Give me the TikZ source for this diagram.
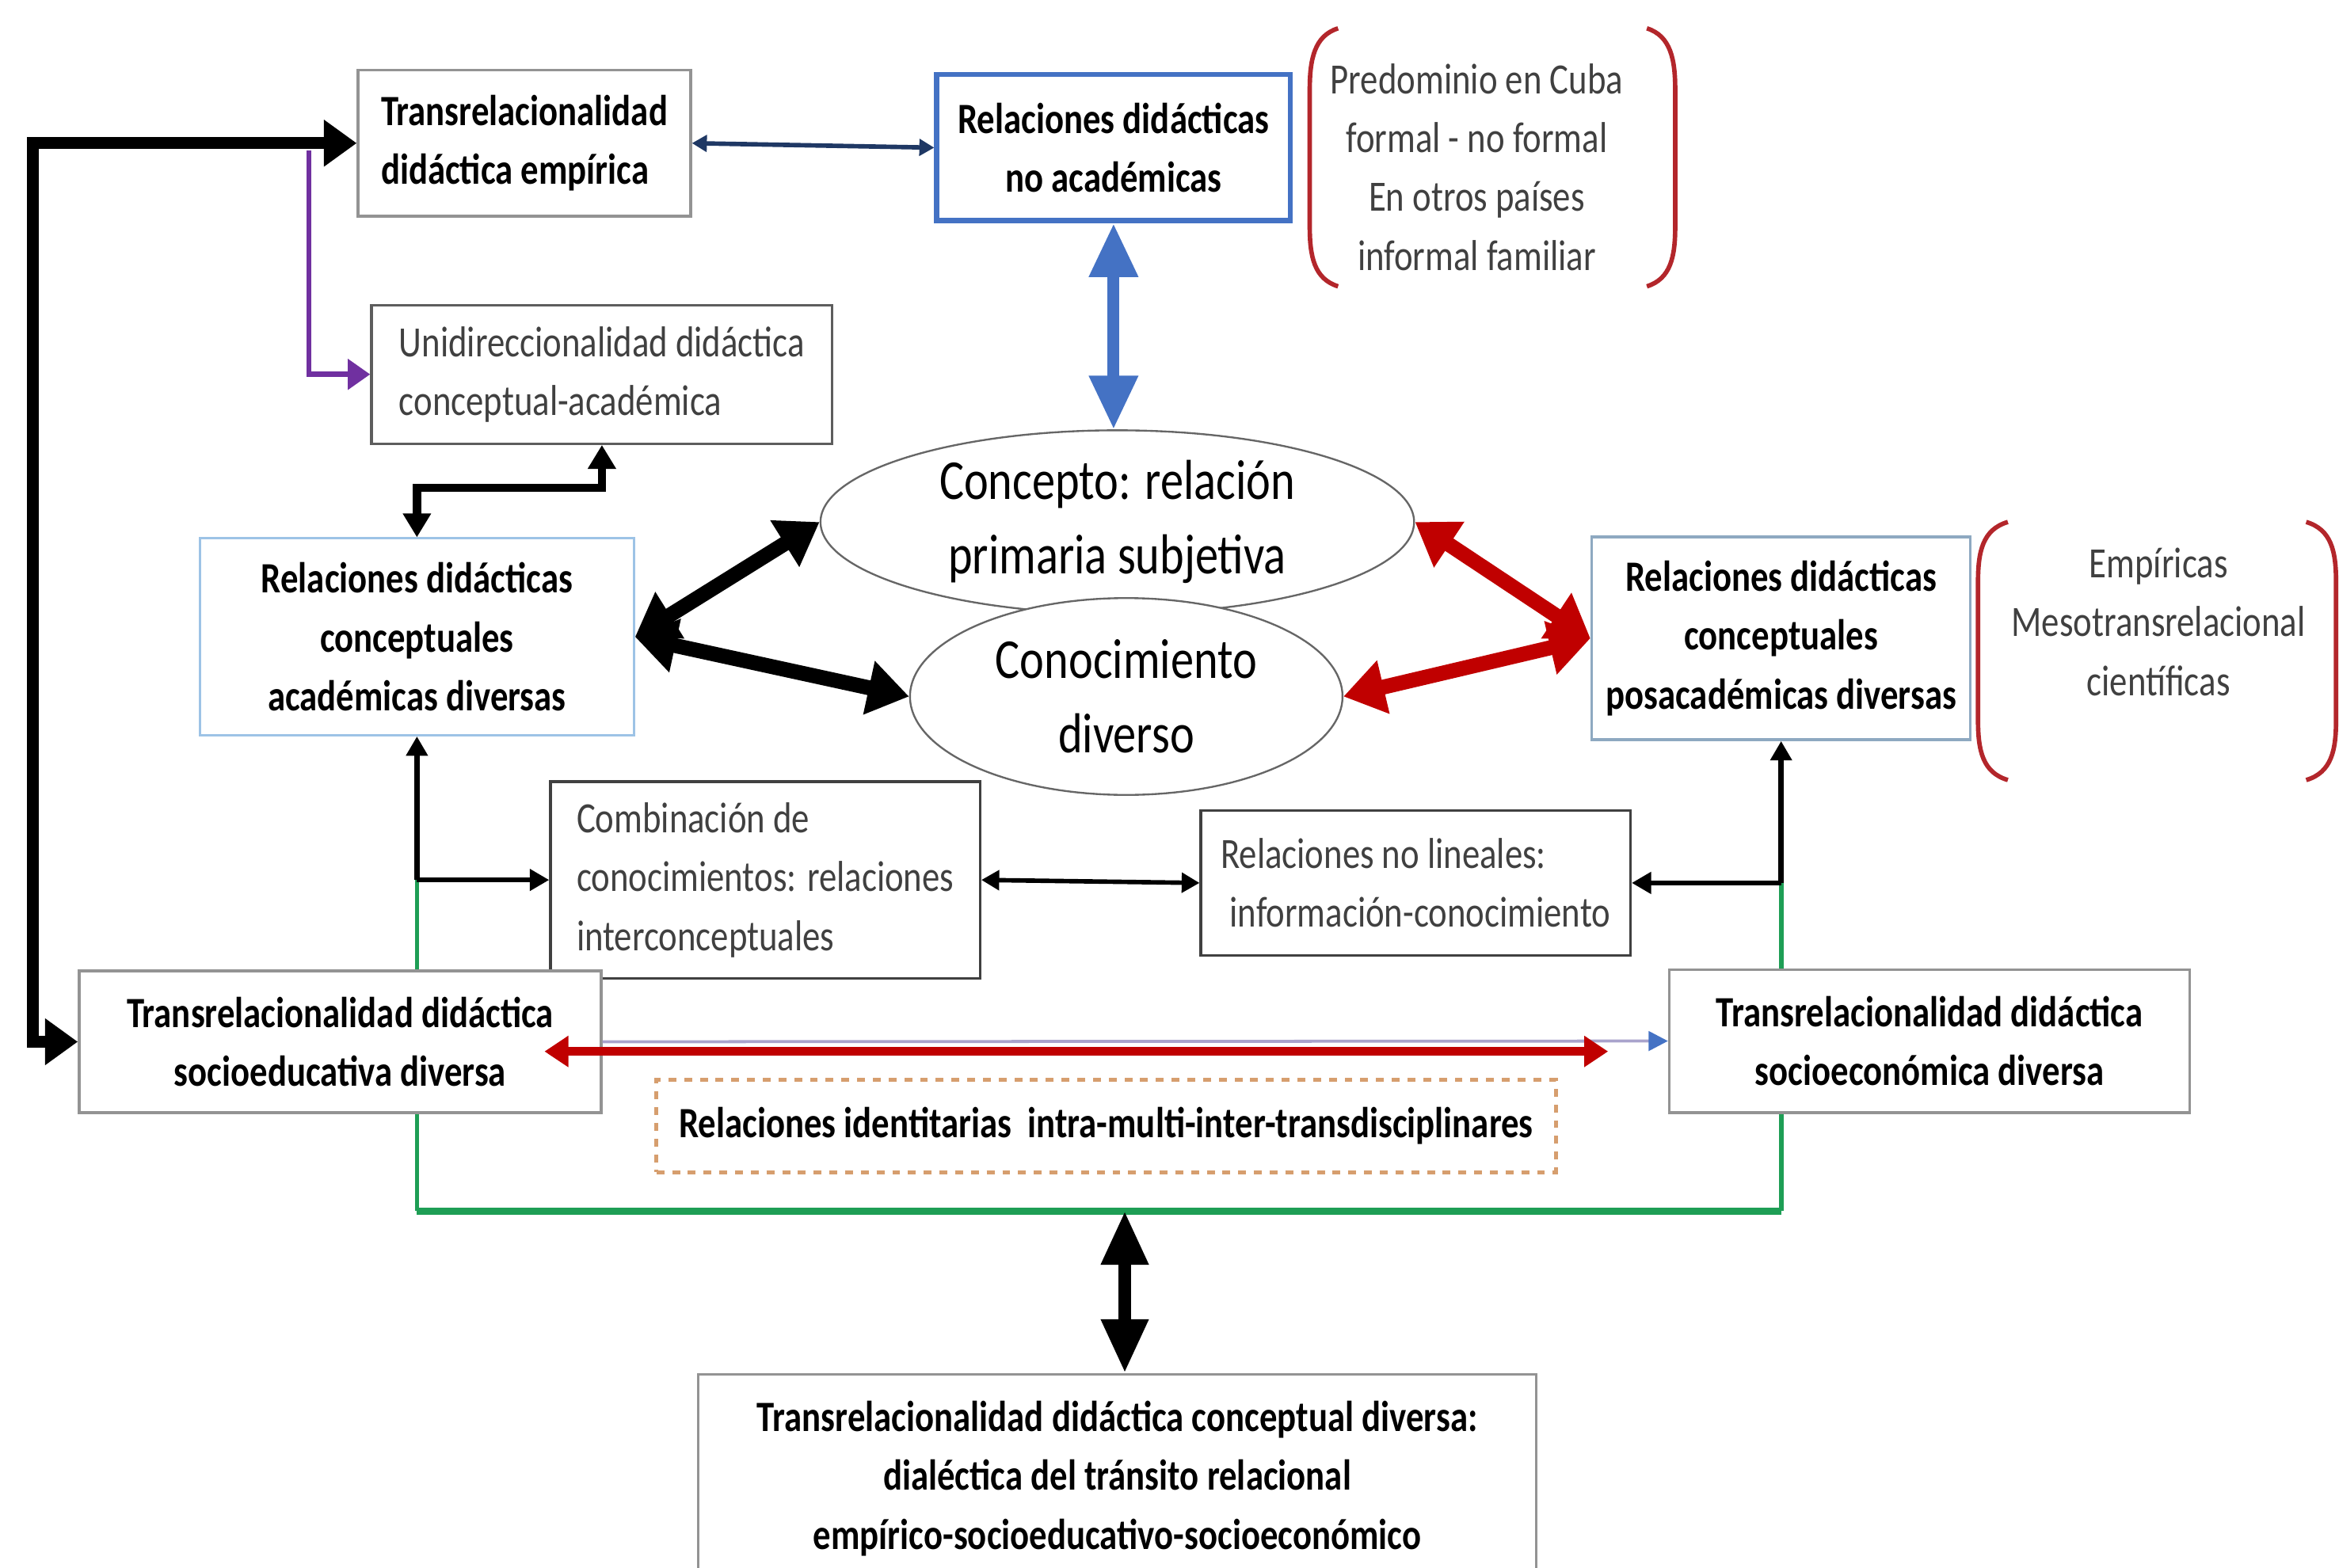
\documentclass[tikz,border=0pt]{standalone}
\usepackage{fontspec}
\setmainfont{Carlito}[FakeStretch=0.82]
\usetikzlibrary{arrows.meta,backgrounds,shapes.geometric}
\definecolor{azul}{HTML}{4472C4}
\definecolor{marino}{HTML}{1F3864}
\definecolor{rojo}{HTML}{C00000}
\definecolor{verde}{HTML}{1E9E55}
\definecolor{morado}{HTML}{7030A0}
\definecolor{celeste}{HTML}{9DC3E6}
\definecolor{pizarra}{HTML}{8EA9C1}
\definecolor{naranja}{HTML}{D69E6E}
\definecolor{gris}{HTML}{404040}
\definecolor{corchete}{HTML}{B3262B}
\definecolor{lila}{HTML}{A9A3CC}

\begin{document}
\fontsize{16.5}{22.5}\selectfont
\begin{tikzpicture}[x=0.02cm,y=-0.02cm,
    fatbk/.style={line width=0.2cm,{Triangle[length=0.55cm,width=0.7cm]}-{Triangle[length=0.55cm,width=0.7cm]}},
    fatrd/.style={fatbk,color=rojo},
    bluefat/.style={line width=0.16cm,color=azul,{Triangle[length=0.72cm,width=0.62cm]}-{Triangle[length=0.72cm,width=0.62cm]}},
    navy/.style={line width=0.06cm,color=marino,{Triangle[length=0.2cm,width=0.22cm]}-{Triangle[length=0.2cm,width=0.22cm]}},
    bigbk/.style={line width=0.16cm,{Triangle[length=0.44cm,width=0.6cm]}-{Triangle[length=0.44cm,width=0.6cm]}},
    purp/.style={line width=0.07cm,color=morado,-{Triangle[length=0.3cm,width=0.4cm]}},
    midbk/.style={line width=0.11cm,{Triangle[length=0.32cm,width=0.36cm]}-{Triangle[length=0.32cm,width=0.36cm]}},
    thinbk/.style={line width=0.07cm,-{Triangle[length=0.26cm,width=0.28cm]}},
    thinbk2/.style={line width=0.06cm,{Triangle[length=0.24cm,width=0.26cm]}-{Triangle[length=0.24cm,width=0.26cm]}},
    redlong/.style={line width=0.12cm,color=rojo,{Triangle[length=0.32cm,width=0.4cm]}-{Triangle[length=0.32cm,width=0.4cm]}},
    lightbl/.style={line width=0.04cm,color=lila,-{Triangle[length=0.26cm,width=0.26cm,color=azul]}},
    grthin/.style={line width=0.06cm,color=verde},
    grthick/.style={line width=0.1cm,color=verde},
    botbk/.style={line width=0.16cm,{Triangle[length=0.72cm,width=0.6cm]}-{Triangle[length=0.72cm,width=0.6cm]}},
    corch/.style={line width=0.06cm,color=corchete}]

  \useasboundingbox (0,0) rectangle (1568,1051);

  \begin{scope}[every node/.style={draw,fill=white,inner sep=0pt,align=center,line width=0.035cm}]
    \node[draw=gray!85,minimum width=4.46cm,minimum height=1.96cm,align=left,font=\bfseries] (1) at (351.5,96) {Transrelacionalidad\\didáctica empírica};
    \node[draw=azul,line width=0.07cm,minimum width=4.74cm,minimum height=1.96cm,font=\bfseries] (2) at (746.5,99) {Relaciones didácticas\\no académicas};
    \node[draw=gris!85,minimum width=6.18cm,minimum height=1.86cm,align=left,text=gris] (3) at (403.5,251) {Unidireccionalidad didáctica\\conceptual-académica};
    \node[draw=celeste,line width=0.03cm,minimum width=5.82cm,minimum height=2.64cm,font=\bfseries] (4) at (279.5,427) {Relaciones didácticas\\conceptuales\\académicas diversas};
    \node[draw=pizarra,minimum width=5.08cm,minimum height=2.72cm,font=\bfseries] (7) at (1194,428) {Relaciones didácticas\\conceptuales\\posacadémicas diversas};
    \node[draw=gris,minimum width=5.76cm,minimum height=2.64cm,align=left,text=gris] (8) at (513,590) {Combinación de\\conocimientos: relaciones\\interconceptuales};
    \node[draw=gris,minimum width=5.76cm,minimum height=1.94cm,align=left,text=gris] (9) at (949,592) {Relaciones no lineales:\\\hspace{0.12cm}información-conocimiento};
    \node[draw=gray!85,minimum width=7cm,minimum height=1.9cm,font=\bfseries] (10) at (228,698.5) {Transrelacionalidad didáctica\\socioeducativa diversa};
    \node[draw=gray!85,minimum width=6.98cm,minimum height=1.92cm,font=\bfseries] (11) at (1293.5,698) {Transrelacionalidad didáctica\\socioeconómica diversa};
    \node[draw=naranja,dashed,line width=0.05cm,minimum width=12.06cm,minimum height=1.24cm,font=\bfseries] (12) at (741.5,755) {Relaciones identitarias\ \ intra-multi-inter-transdisciplinares};
    \node[draw=gray!85,anchor=north,minimum width=11.24cm,minimum height=2.8cm,font=\bfseries] (13) at (749,920.5) {Transrelacionalidad didáctica conceptual diversa:\\dialéctica del tránsito relacional\\empírico-socioeducativo-socioeconómico};
  \end{scope}

  \begin{scope}[every node/.style={ellipse,draw=gris!80,line width=0.025cm,inner sep=0pt,align=center,font=\fontsize{21.5}{28.5}\selectfont}]
    \node[minimum width=7.96cm,minimum height=2.46cm] (5) at (749,350) {Concepto: relación\\primaria subjetiva};
    \node[fill=white,minimum width=5.8cm,minimum height=2.64cm] (6) at (755,467) {Conocimiento\\diverso};
  \end{scope}

  \begin{scope}[every node/.style={align=center,text=gris,inner sep=0pt}]
    \node (14) at (990,112) {Predominio en Cuba\\formal - no formal\\En otros países\\informal familiar};
    \node (15) at (1447,417) {Empíricas\\Mesotransrelacional\\científicas};
  \end{scope}

  \draw[corch] (897,19) .. controls (881,24) and (878,40) .. (878,60) -- (878,152) .. controls (878,172) and (881,187) .. (897,192);
  \draw[corch] (1104,19) .. controls (1120,24) and (1123,40) .. (1123,60) -- (1123,152) .. controls (1123,172) and (1120,187) .. (1104,192);
  \draw[corch] (1346,350) .. controls (1329,355) and (1326,370) .. (1326,390) -- (1326,483) .. controls (1326,503) and (1329,518) .. (1346,523);
  \draw[corch] (1546,350) .. controls (1563,355) and (1566,370) .. (1566,390) -- (1566,483) .. controls (1566,503) and (1563,518) .. (1546,523);

  \coordinate (c1) at (22,0);
  \coordinate (c2) at (207,101);
  \coordinate (c3) at (340,327);
  \coordinate (c4) at (4.south |- 8.west);
  \coordinate (c5) at (7.south |- 9.east);
  \coordinate (c6) at (754,812);
  \coordinate (c7) at (365,705);
  \coordinate (c8) at (1078,705);

  \begin{scope}[on background layer]
    \draw[grthin] (c4) -- (c4 |- c6);
    \draw[grthin] (c5) -- (c5 |- c6);
    \draw[grthick] (c4 |- c6) -- (c5 |- c6);
  \end{scope}

  \draw[bigbk] (1.west) -- (1.west -| c1) -- (10.west -| c1) -- (10.west);
  \draw[purp] (c2) |- (3.west);
  \draw[midbk] (3.south) |- (c3) -| (4.north);

  \path (1.east) edge[navy] (2.west);
  \path (2.south) edge[bluefat] (2.south |- 5.north);
  \path (4.east) edge[fatbk] (5.west) edge[fatbk] (6.west);
  \path (7.west) edge[fatrd] (5.east) edge[fatrd] (6.east);
  \path (c4) edge[thinbk] (4.south) edge[thinbk] (8.west);
  \path (c5) edge[thinbk] (7.south) edge[thinbk] (9.east);
  \path (8.east) edge[thinbk2] (9.west);
  \path (10.east) edge[lightbl] (11.west);
  \draw[redlong] (c7) -- (c8);
  \path (c6) edge[botbk] (c6 |- 13.north);

\end{tikzpicture}
\end{document}
